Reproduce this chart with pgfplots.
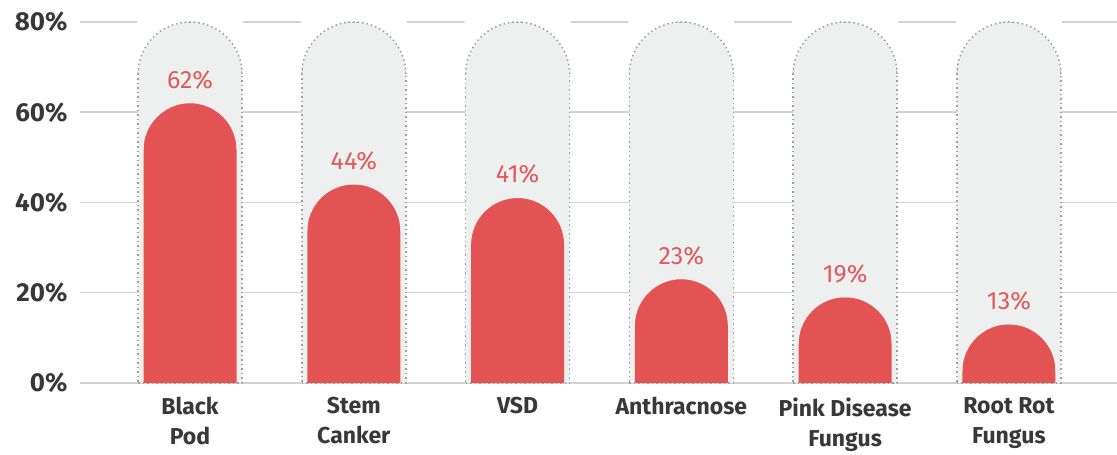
\documentclass[border=0pt]{standalone}
\usepackage{fontspec}
\setmainfont{Fira Sans}
\usepackage{pgfplots}
\pgfplotsset{compat=1.18}
\definecolor{barred}{HTML}{E35353}
\definecolor{labred}{HTML}{E05A5C}
\definecolor{bgbar}{HTML}{EEF0F0}
\definecolor{dotgrey}{HTML}{A0A0A0}
\definecolor{gridgrey}{HTML}{D2D2D2}
\definecolor{txt}{HTML}{383838}

% mask that turns the top of a red bar into a half disc (painted in the grey of the back bar)
\pgfdeclareplotmark{redcap}{%
  \pgfsetfillcolor{bgbar}%
  \pgfpathmoveto{\pgfqpoint{-48pt}{-46.5pt}}%
  \pgfpathlineto{\pgfqpoint{-46.5pt}{-46.5pt}}%
  \pgfpatharc{180}{0}{46.5pt}%
  \pgfpathlineto{\pgfqpoint{48pt}{-46.5pt}}%
  \pgfpathlineto{\pgfqpoint{48pt}{1pt}}%
  \pgfpathlineto{\pgfqpoint{-48pt}{1pt}}%
  \pgfpathclose
  \pgfusepathqfill
}
% mask that turns the top of a back bar into a half disc with a dotted rim
\pgfdeclareplotmark{bgcap}{%
  \pgfsetfillcolor{white}%
  \pgfpathmoveto{\pgfqpoint{-53pt}{-52pt}}%
  \pgfpathlineto{\pgfqpoint{-52pt}{-52pt}}%
  \pgfpatharc{180}{0}{52pt}%
  \pgfpathlineto{\pgfqpoint{53pt}{-52pt}}%
  \pgfpathlineto{\pgfqpoint{53pt}{2pt}}%
  \pgfpathlineto{\pgfqpoint{-53pt}{2pt}}%
  \pgfpathclose
  \pgfusepathqfill
  \pgfsetstrokecolor{dotgrey}%
  \pgfsetlinewidth{1.5pt}%
  \pgfsetdash{{1.5pt}{3pt}}{0pt}%
  \pgfpathmoveto{\pgfqpoint{-52pt}{-52pt}}%
  \pgfpatharc{180}{0}{52pt}%
  \pgfusepathqstroke
}

\begin{document}
\begin{tikzpicture}
\begin{axis}[
  scale only axis, width=1037pt, height=361pt,
  xmin=-0.672, xmax=5.66, ymin=0, ymax=80,
  clip=false,
  axis line style={draw=none}, tick style={draw=none},
  major tick length=0pt,
  ytick={0,20,40,60,80},
  yticklabel={\pgfmathprintnumber{\tick}\%},
  /pgf/number format/assume math mode=true,
  yticklabel style={font=\fontsize{26}{30}\selectfont\bfseries, text=txt, xshift=-9pt},
  xtick={0,1,2,3,4,5},
  xticklabels={Black\\Pod, Stem\\Canker, VSD, Anthracnose, Pink Disease\\Fungus, Root Rot\\Fungus},
  xticklabel style={font=\fontsize{23}{30}\selectfont\bfseries, text=txt, align=center, anchor=north, yshift=-11pt},
  ymajorgrids, grid style={gridgrey, line width=1.5pt},
]
\addplot[ybar, bar shift=0pt, bar width=104pt, fill=bgbar, draw=dotgrey, line width=1.5pt, dash pattern=on 1.5pt off 3pt]
  coordinates {(0,80) (1,80) (2,80) (3,80) (4,80) (5,80)};
\addplot[only marks, mark=bgcap]
  coordinates {(0,80) (1,80) (2,80) (3,80) (4,80) (5,80)};
\addplot[ybar, bar shift=0pt, bar width=93pt, fill=barred, draw=none]
  coordinates {(0,62) (1,44) (2,41) (3,23) (4,19) (5,13)};
\addplot[only marks, mark=redcap,
  nodes near coords={\pgfmathprintnumber{\pgfplotspointmeta}\%},
  every node near coord/.append style={font=\fontsize{25}{30}\selectfont, text=labred, anchor=base, yshift=15pt,
    /pgf/number format/assume math mode=true}]
  coordinates {(0,62) (1,44) (2,41) (3,23) (4,19) (5,13)};
\coordinate (SW) at (rel axis cs:0,0);
\coordinate (NE) at (rel axis cs:1,1);
\end{axis}
\pgfresetboundingbox
\path[use as bounding box] ([xshift=-80pt,yshift=-72pt]SW) rectangle ([yshift=22pt]NE);
\end{tikzpicture}
\end{document}
